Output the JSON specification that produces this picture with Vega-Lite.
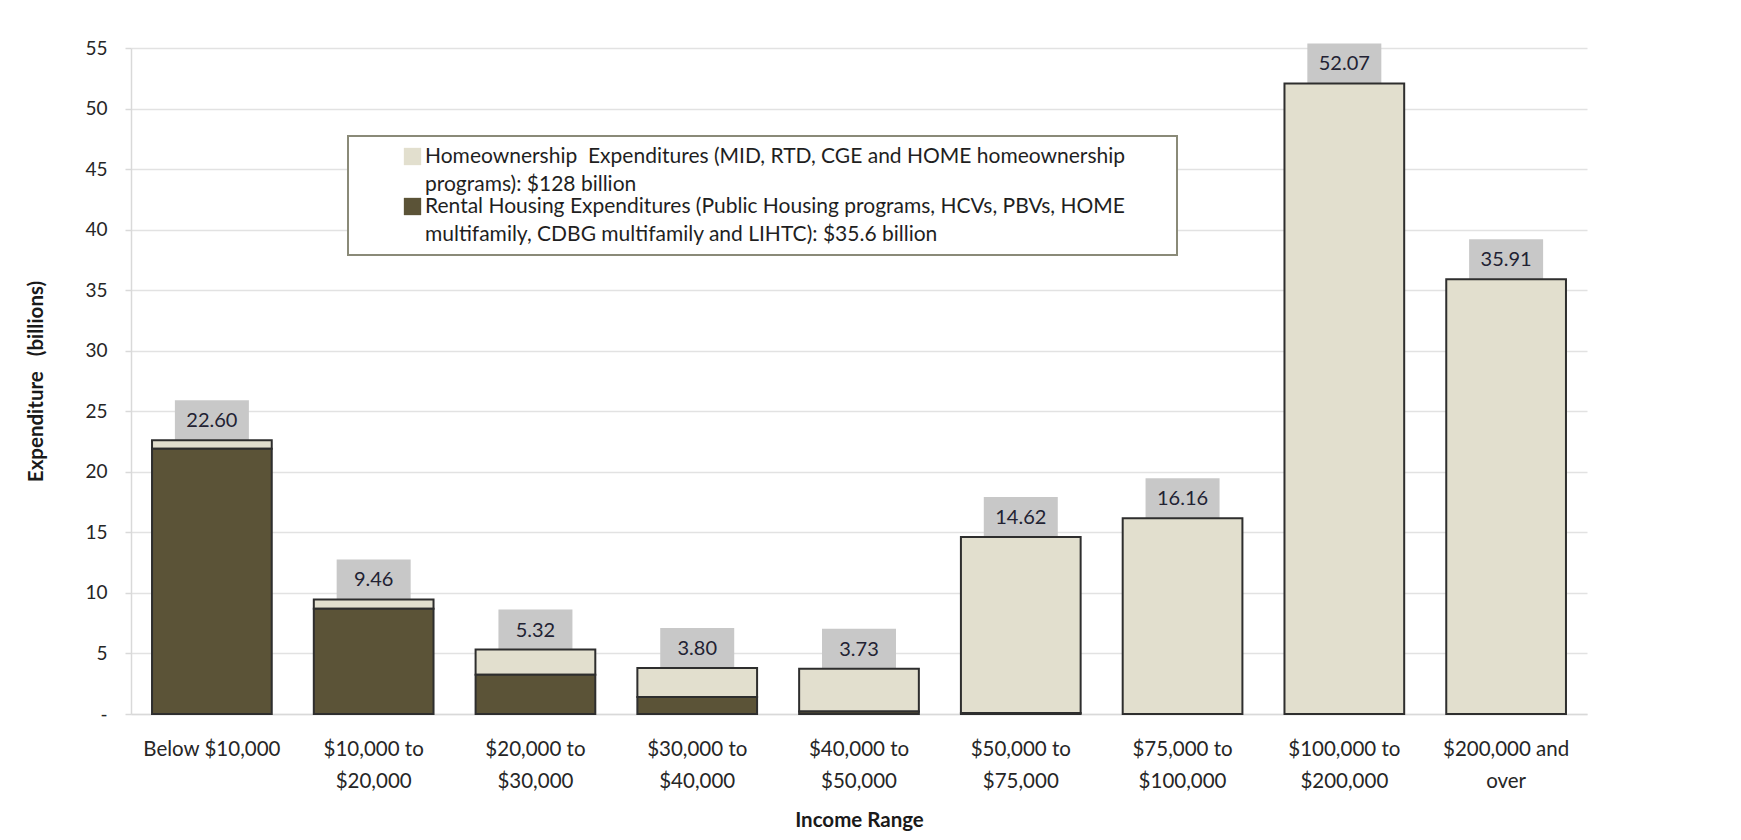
{
  "$schema": "https://vega.github.io/schema/vega-lite/v6.json",
  "width": 1456,
  "height": 666,
  "autosize": {"type": "none"},
  "padding": {"left": 131, "top": 48, "right": 154, "bottom": 126},
  "background": "white",
  "datasets": {
    "segments": [
      {"income": "Below $10,000", "series": "Homeownership\u00a0 Expenditures (MID, RTD, CGE and HOME homeownership programs): $128 billion", "value": 0.70},
      {"income": "Below $10,000", "series": "Rental Housing Expenditures (Public Housing programs, HCVs, PBVs, HOME multifamily, CDBG multifamily and LIHTC): $35.6 billion", "value": 21.90},
      {"income": "$10,000 to $20,000", "series": "Homeownership\u00a0 Expenditures (MID, RTD, CGE and HOME homeownership programs): $128 billion", "value": 0.76},
      {"income": "$10,000 to $20,000", "series": "Rental Housing Expenditures (Public Housing programs, HCVs, PBVs, HOME multifamily, CDBG multifamily and LIHTC): $35.6 billion", "value": 8.70},
      {"income": "$20,000 to $30,000", "series": "Homeownership\u00a0 Expenditures (MID, RTD, CGE and HOME homeownership programs): $128 billion", "value": 2.07},
      {"income": "$20,000 to $30,000", "series": "Rental Housing Expenditures (Public Housing programs, HCVs, PBVs, HOME multifamily, CDBG multifamily and LIHTC): $35.6 billion", "value": 3.25},
      {"income": "$30,000 to $40,000", "series": "Homeownership\u00a0 Expenditures (MID, RTD, CGE and HOME homeownership programs): $128 billion", "value": 2.40},
      {"income": "$30,000 to $40,000", "series": "Rental Housing Expenditures (Public Housing programs, HCVs, PBVs, HOME multifamily, CDBG multifamily and LIHTC): $35.6 billion", "value": 1.40},
      {"income": "$40,000 to $50,000", "series": "Homeownership\u00a0 Expenditures (MID, RTD, CGE and HOME homeownership programs): $128 billion", "value": 3.53},
      {"income": "$40,000 to $50,000", "series": "Rental Housing Expenditures (Public Housing programs, HCVs, PBVs, HOME multifamily, CDBG multifamily and LIHTC): $35.6 billion", "value": 0.20},
      {"income": "$50,000 to $75,000", "series": "Homeownership\u00a0 Expenditures (MID, RTD, CGE and HOME homeownership programs): $128 billion", "value": 14.54},
      {"income": "$50,000 to $75,000", "series": "Rental Housing Expenditures (Public Housing programs, HCVs, PBVs, HOME multifamily, CDBG multifamily and LIHTC): $35.6 billion", "value": 0.08},
      {"income": "$75,000 to $100,000", "series": "Homeownership\u00a0 Expenditures (MID, RTD, CGE and HOME homeownership programs): $128 billion", "value": 16.16},
      {"income": "$75,000 to $100,000", "series": "Rental Housing Expenditures (Public Housing programs, HCVs, PBVs, HOME multifamily, CDBG multifamily and LIHTC): $35.6 billion", "value": 0},
      {"income": "$100,000 to $200,000", "series": "Homeownership\u00a0 Expenditures (MID, RTD, CGE and HOME homeownership programs): $128 billion", "value": 52.07},
      {"income": "$100,000 to $200,000", "series": "Rental Housing Expenditures (Public Housing programs, HCVs, PBVs, HOME multifamily, CDBG multifamily and LIHTC): $35.6 billion", "value": 0},
      {"income": "$200,000 and over", "series": "Homeownership\u00a0 Expenditures (MID, RTD, CGE and HOME homeownership programs): $128 billion", "value": 35.91},
      {"income": "$200,000 and over", "series": "Rental Housing Expenditures (Public Housing programs, HCVs, PBVs, HOME multifamily, CDBG multifamily and LIHTC): $35.6 billion", "value": 0}
    ],
    "totals": [
      {"income": "Below $10,000", "total": 22.60},
      {"income": "$10,000 to $20,000", "total": 9.46},
      {"income": "$20,000 to $30,000", "total": 5.32},
      {"income": "$30,000 to $40,000", "total": 3.80},
      {"income": "$40,000 to $50,000", "total": 3.73},
      {"income": "$50,000 to $75,000", "total": 14.62},
      {"income": "$75,000 to $100,000", "total": 16.16},
      {"income": "$100,000 to $200,000", "total": 52.07},
      {"income": "$200,000 and over", "total": 35.91}
    ]
  },
  "config": {
    "font": "Lato",
    "view": {"stroke": null},
    "legend": {"strokeWidth": 2},
    "style": {"guide-label": {"lineHeight": 28}}
  },
  "encoding": {
    "x": {
      "field": "income",
      "type": "nominal",
      "sort": ["Below $10,000", "$10,000 to $20,000", "$20,000 to $30,000", "$30,000 to $40,000", "$40,000 to $50,000", "$50,000 to $75,000", "$75,000 to $100,000", "$100,000 to $200,000", "$200,000 and over"],
      "scale": {"paddingInner": 0.26, "paddingOuter": 0.13},
      "axis": {
        "title": "Income Range",
        "labelAngle": 0,
        "labelExpr": "length(split(datum.label, ' ')) == 3 ? [split(datum.label, ' ')[0] + ' ' + split(datum.label, ' ')[1], split(datum.label, ' ')[2]] : datum.label",
        "labelLineHeight": 32,
        "ticks": false,
        "tickSize": 0,
        "labelPadding": 25,
        "labelFontSize": 20.5,
        "labelColor": "#262626",
        "domainColor": "#d9d9d9",
        "domainWidth": 1.5,
        "titleFontSize": 20.5,
        "titleFontWeight": "bold",
        "titleColor": "#1a1a1a",
        "titlePadding": 19
      }
    }
  },
  "layer": [
    {
      "data": {"name": "totals"},
      "mark": {"type": "bar", "width": 74, "yOffset": -40, "y2Offset": 8, "color": "#c8c8c8"},
      "encoding": {
        "y": {
          "field": "total", "type": "quantitative",
          "scale": {"domain": [0, 55], "nice": false},
          "axis": {
            "title": "Expenditure\u00a0\u00a0 (billions)",
            "values": [0, 5, 10, 15, 20, 25, 30, 35, 40, 45, 50, 55],
            "labelExpr": "datum.value == 0 ? '-' : datum.label",
            "grid": true, "gridColor": "#e2e2e2", "gridWidth": 1.5,
            "domainColor": "#d9d9d9", "domainWidth": 1.5,
            "tickColor": "#d9d9d9", "tickSize": 6, "tickWidth": 1.5,
            "labelPadding": 18, "labelFontSize": 19, "labelColor": "#262626",
            "titleFontSize": 20.5, "titleFontWeight": "bold", "titleColor": "#1a1a1a", "titlePadding": 38
          }
        },
        "y2": {"field": "total"}
      }
    },
    {
      "data": {"name": "segments"},
      "mark": {"type": "bar", "stroke": "#2e2e2e", "strokeWidth": 2},
      "encoding": {
        "y": {
          "field": "value", "type": "quantitative", "stack": "zero",
          "scale": {"domain": [0, 55], "nice": false},
          "axis": {
            "title": "Expenditure\u00a0\u00a0 (billions)",
            "values": [0, 5, 10, 15, 20, 25, 30, 35, 40, 45, 50, 55],
            "labelExpr": "datum.value == 0 ? '-' : datum.label",
            "grid": true, "gridColor": "#e2e2e2", "gridWidth": 1.5,
            "domainColor": "#d9d9d9", "domainWidth": 1.5,
            "tickColor": "#d9d9d9", "tickSize": 6, "tickWidth": 1.5,
            "labelPadding": 18, "labelFontSize": 19, "labelColor": "#262626",
            "titleFontSize": 20.5, "titleFontWeight": "bold", "titleColor": "#1a1a1a", "titlePadding": 38
          }
        },
        "color": {
          "field": "series",
          "type": "nominal",
          "scale": {
            "domain": [
              "Homeownership\u00a0 Expenditures (MID, RTD, CGE and HOME homeownership programs): $128 billion",
              "Rental Housing Expenditures (Public Housing programs, HCVs, PBVs, HOME multifamily, CDBG multifamily and LIHTC): $35.6 billion"
            ],
            "range": ["#e2dfce", "#5b5337"]
          },
          "legend": {
            "title": null,
            "orient": "none",
            "legendX": 217,
            "legendY": 88,
            "padding": 10,
            "symbolOffset": 44,
            "symbolType": "square",
            "symbolSize": 300,
            "symbolStrokeWidth": 0,
            "labelOffset": 2,
            "labelFontSize": 21,
            "labelColor": "#1f1f1f",
            "labelLimit": 1000,
            "rowPadding": 0,
            "strokeColor": "#8a8a78",
            "fillColor": "#ffffff",
            "labelExpr": "indexof(datum.label, 'programs):') > 0 ? [substring(datum.label, 0, indexof(datum.label, ' programs):')) + '\u00a0\u00a0\u00a0\u00a0\u00a0\u2800', substring(datum.label, indexof(datum.label, 'programs):'))] : [substring(datum.label, 0, indexof(datum.label, ' multifamily, CDBG')), substring(datum.label, indexof(datum.label, 'multifamily, CDBG'))]"
          }
        },
        "order": {"field": "series", "sort": "descending"}
      }
    },
    {
      "data": {"name": "totals"},
      "mark": {"type": "text", "dy": -19, "baseline": "middle", "fontSize": 20, "color": "#222233"},
      "encoding": {
        "y": {
          "field": "total", "type": "quantitative",
          "scale": {"domain": [0, 55], "nice": false},
          "axis": {
            "title": "Expenditure\u00a0\u00a0 (billions)",
            "values": [0, 5, 10, 15, 20, 25, 30, 35, 40, 45, 50, 55],
            "labelExpr": "datum.value == 0 ? '-' : datum.label",
            "grid": true, "gridColor": "#e2e2e2", "gridWidth": 1.5,
            "domainColor": "#d9d9d9", "domainWidth": 1.5,
            "tickColor": "#d9d9d9", "tickSize": 6, "tickWidth": 1.5,
            "labelPadding": 18, "labelFontSize": 19, "labelColor": "#262626",
            "titleFontSize": 20.5, "titleFontWeight": "bold", "titleColor": "#1a1a1a", "titlePadding": 38
          }
        },
        "text": {"field": "total", "type": "quantitative", "format": ".2f"}
      }
    }
  ]
}
